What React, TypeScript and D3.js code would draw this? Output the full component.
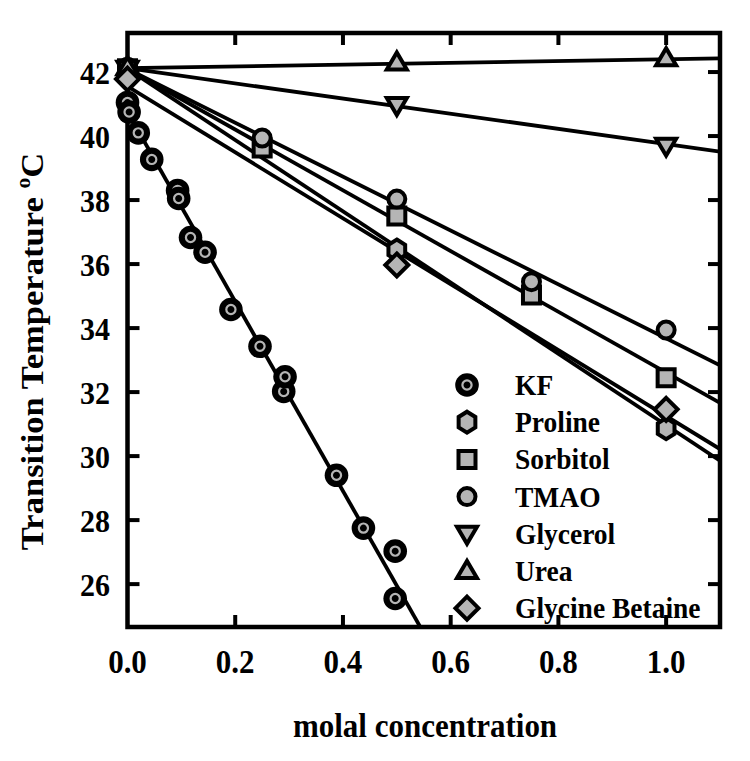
import React from "react";
import * as d3 from "d3";

// ---- data ----
const seriesNames = ["KF", "Proline", "Sorbitol", "TMAO", "Glycerol", "Urea", "Glycine Betaine"];

const kfX = [0, 0.003, 0.02, 0.045, 0.093, 0.095, 0.117, 0.144, 0.192, 0.246, 0.29, 0.2925, 0.388, 0.438, 0.497, 0.497];
const kfT = [41.05, 40.75, 40.1, 39.27, 38.3, 38.05, 36.83, 36.37, 34.58, 33.43, 32.02, 32.48, 29.4, 27.75, 27.03, 25.55];

const prolineX = [0, 0.5, 1.0];
const prolineT = [42.1, 36.44, 30.86];

const sorbitolX = [0, 0.25, 0.5, 0.75, 1.0];
const sorbitolT = [42.1, 39.63, 37.5, 35.03, 32.45];

const tmaoX = [0, 0.25, 0.5, 0.75, 1.0];
const tmaoT = [42.15, 39.94, 38.03, 35.45, 33.94];

const glycerolX = [0, 0.5, 1.0];
const glycerolT = [42.1, 40.97, 39.7];

const ureaX = [0, 0.5, 1.0];
const ureaT = [42.15, 42.3, 42.43];

const betaineX = [0, 0.5, 1.0];
const betaineT = [41.78, 35.97, 31.46];

// linear fits: intercept, slope
const fitIntercepts = [40.75, 42.1, 42.1, 42.1, 42.12, 42.12, 41.55];
const fitSlopes = [-29.6, -11.13, -9.49, -8.42, -2.37, 0.28, -10.3];

const xTicks = [0.0, 0.2, 0.4, 0.6, 0.8, 1.0];
const yTicks = [26, 28, 30, 32, 34, 36, 38, 40, 42];

const xDomain = [0, 1.1];
const yDomain = [24.66, 43.22];

// ---- layout ----
const W = 750, H = 761;
const L = 127.5, R = 720, T = 33, B = 627;
const GRAY = "#b5b5b5";
const FONT = "'Liberation Serif', 'Times New Roman', serif";
const SY = 1.08;

type Shape = "kf" | "hex" | "square" | "circle" | "tdown" | "tup" | "diamond";
const shapes: Shape[] = ["kf", "hex", "square", "circle", "tdown", "tup", "diamond"];

function markerPath(shape: Shape): string {
  const p = d3.path();
  if (shape === "square") {
    p.rect(-8.5, -8.5, 17, 17);
  } else if (shape === "hex") {
    const r = 10.5;
    for (let i = 0; i < 6; i++) {
      const a = -Math.PI / 2 + (i * Math.PI) / 3;
      const px = r * Math.cos(a) * 0.92, py = r * Math.sin(a);
      if (i === 0) p.moveTo(px, py); else p.lineTo(px, py);
    }
    p.closePath();
  } else if (shape === "tdown") {
    p.moveTo(-10, -7); p.lineTo(10, -7); p.lineTo(0, 10); p.closePath();
  } else if (shape === "tup") {
    p.moveTo(-10, 7); p.lineTo(10, 7); p.lineTo(0, -10); p.closePath();
  } else if (shape === "diamond") {
    p.moveTo(0, -11.5); p.lineTo(11.5, 0); p.lineTo(0, 11.5); p.lineTo(-11.5, 0); p.closePath();
  } else {
    p.arc(0, 0, 8.5, 0, Math.PI * 2);
  }
  return p.toString();
}

function Marker({ shape, x, y }: { shape: Shape; x: number; y: number }) {
  if (shape === "kf") {
    return (
      <g transform={`translate(${x},${y})`}>
        <circle r={11.8} fill="#000" />
        <circle r={4.6} fill="none" stroke={GRAY} strokeWidth={2.2} />
      </g>
    );
  }
  return (
    <path
      transform={`translate(${x},${y})`}
      d={markerPath(shape)}
      fill={GRAY}
      stroke="#000"
      strokeWidth={4}
      strokeLinejoin="miter"
    />
  );
}

function SText({ x, y, children, ...rest }: any) {
  return (
    <text transform={`translate(${x},${y}) scale(1,${SY})`} {...rest}>
      {children}
    </text>
  );
}

export default function App() {
  const x = d3.scaleLinear().domain(xDomain).range([L, R]);
  const y = d3.scaleLinear().domain(yDomain).range([B, T]);

  const series = [
    { xs: kfX, ts: kfT },
    { xs: prolineX, ts: prolineT },
    { xs: sorbitolX, ts: sorbitolT },
    { xs: tmaoX, ts: tmaoT },
    { xs: glycerolX, ts: glycerolT },
    { xs: ureaX, ts: ureaT },
    { xs: betaineX, ts: betaineT },
  ];

  const line = d3
    .line<[number, number]>()
    .x((d) => x(d[0]))
    .y((d) => y(d[1]));

  const fitLines = fitIntercepts.map((b, i) => {
    const pts: [number, number][] = [xDomain[0], xDomain[1]].map((v) => [v, b + fitSlopes[i] * v]);
    return line(pts) as string;
  });

  const tickLen = 12;
  const legendX = 467;
  const legendY0 = 385;
  const legendDy = 37.2;

  return (
    <svg
      width={W}
      height={H}
      style={{ position: "absolute", left: 0, top: 0, background: "#fff" }}
      fontFamily={FONT}
      fontWeight="bold"
    >
      <defs>
        <clipPath id="plotClip">
          <rect x={L} y={T} width={R - L} height={B - T} />
        </clipPath>
      </defs>
      <rect width={W} height={H} fill="#fff" />

      {/* fit lines */}
      <g clipPath="url(#plotClip)">
        {fitLines.map((d, i) => (
          <path key={i} d={d} fill="none" stroke="#000" strokeWidth={3.8} />
        ))}
      </g>

      {/* frame */}
      <rect x={L} y={T} width={R - L} height={B - T} fill="none" stroke="#000" strokeWidth={4.5} />

      {/* ticks */}
      {xTicks.filter((v) => v > 0).map((v) => (
        <g key={"xt" + v}>
          <line x1={x(v)} x2={x(v)} y1={B} y2={B - tickLen} stroke="#000" strokeWidth={4} />
          <line x1={x(v)} x2={x(v)} y1={T} y2={T + tickLen} stroke="#000" strokeWidth={4} />
        </g>
      ))}
      {yTicks.map((v) => (
        <g key={"yt" + v}>
          <line x1={L} x2={L + tickLen} y1={y(v)} y2={y(v)} stroke="#000" strokeWidth={4} />
          <line x1={R} x2={R - tickLen} y1={y(v)} y2={y(v)} stroke="#000" strokeWidth={4} />
        </g>
      ))}

      {/* tick labels */}
      {xTicks.map((v) => (
        <SText key={"xl" + v} x={x(v)} y={673} textAnchor="middle" fontSize={31}>
          {d3.format(".1f")(v)}
        </SText>
      ))}
      {yTicks.map((v) => (
        <SText key={"yl" + v} x={110} y={y(v) + 11.5} textAnchor="end" fontSize={30}>
          {v}
        </SText>
      ))}

      {/* axis titles */}
      <SText x={425} y={737} textAnchor="middle" fontSize={31}>
        molal concentration
      </SText>
      <text transform={`translate(43,${(143 + 560) / 2}) rotate(-90) scale(${SY},1)`} textAnchor="middle" fontSize={32}>
        Transition Temperature{" "}
        <tspan fontSize={20} dy={-13}>o</tspan>
        <tspan dy={13}>C</tspan>
      </text>

      {/* data markers */}
      {series.map((s, i) =>
        s.xs.map((xv, j) => (
          <Marker key={i + "-" + j} shape={shapes[i]} x={x(xv)} y={y(s.ts[j])} />
        ))
      )}

      {/* legend */}
      {seriesNames.map((name, i) => (
        <g key={"lg" + i}>
          <Marker shape={shapes[i]} x={legendX} y={legendY0 + i * legendDy} />
          <SText x={515} y={legendY0 + i * legendDy + 10} fontSize={27.5}>
            {name}
          </SText>
        </g>
      ))}
    </svg>
  );
}
